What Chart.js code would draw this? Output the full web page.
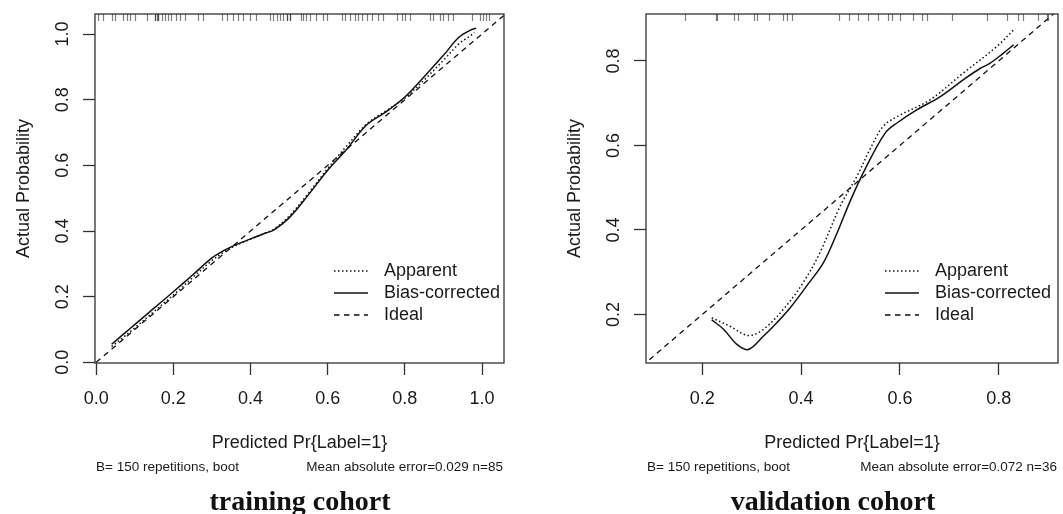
<!DOCTYPE html>
<html>
<head>
<meta charset="utf-8">
<title>Calibration curves</title>
<script src="https://cdn.jsdelivr.net/npm/chart.js@4/dist/chart.umd.min.js"></script>
<style>
    html, body { margin: 0; padding: 0; background: #fff; }
    #wrap { position: relative; width: 1063px; height: 514px; overflow: hidden; }
    canvas { position: absolute; top: 0; }
    #c-train { left: 0; }
    #c-valid { left: 531px; }
    .caption {
        position: absolute; top: 485px; line-height: 28px;
        font: bold 28px "Liberation Serif", "Times New Roman", serif;
        color: #111; white-space: nowrap; transform: translateX(-50%);
    }
</style>
</head>
<body>
<div id="wrap">
    <canvas id="c-train" width="531" height="514"></canvas>
    <canvas id="c-valid" width="532" height="514"></canvas>
    <div class="caption" style="left:300px">training cohort</div>
    <div class="caption" style="left:833px">validation cohort</div>
</div>

<script>
// ─── DATA ────────────────────────────────────────────────────

const LEGEND_LABELS = ['Apparent', 'Bias-corrected', 'Ideal'];
const IDEAL = [0, 1.1];

// training cohort
const trainAppX = [0.04, 0.07, 0.10, 0.15, 0.20, 0.25, 0.30, 0.33, 0.36, 0.40, 0.44, 0.46, 0.50, 0.55, 0.60, 0.65, 0.70, 0.75, 0.80, 0.85, 0.90, 0.94, 0.97, 0.98];
const trainAppY = [0.048, 0.076, 0.105, 0.155, 0.205, 0.258, 0.310, 0.335, 0.355, 0.375, 0.395, 0.405, 0.445, 0.515, 0.590, 0.660, 0.725, 0.765, 0.805, 0.860, 0.920, 0.970, 0.995, 1.005];
const trainBcX  = [0.04, 0.07, 0.10, 0.15, 0.20, 0.25, 0.30, 0.33, 0.36, 0.40, 0.44, 0.46, 0.50, 0.55, 0.60, 0.65, 0.70, 0.75, 0.80, 0.85, 0.90, 0.94, 0.97, 0.985];
const trainBcY  = [0.055, 0.085, 0.115, 0.165, 0.215, 0.266, 0.318, 0.340, 0.357, 0.376, 0.394, 0.403, 0.440, 0.510, 0.585, 0.650, 0.722, 0.762, 0.808, 0.870, 0.935, 0.990, 1.012, 1.018];
const trainRug  = [0.006, 0.018, 0.042, 0.048, 0.070, 0.080, 0.089, 0.100, 0.131, 0.152, 0.152, 0.157, 0.161, 0.161, 0.170,
                   0.178, 0.187, 0.195, 0.207, 0.217, 0.230, 0.265, 0.277, 0.325, 0.340, 0.355, 0.368, 0.381, 0.398, 0.414,
                   0.450, 0.459, 0.468, 0.476, 0.485, 0.494, 0.494, 0.502, 0.502, 0.532, 0.537, 0.545, 0.554, 0.571, 0.589,
                   0.597, 0.636, 0.645, 0.658, 0.671, 0.679, 0.688, 0.701, 0.714, 0.731, 0.744, 0.779, 0.792, 0.800, 0.813,
                   0.865, 0.874, 0.891, 0.900, 0.913, 0.926, 0.973, 0.995, 1.003, 1.010, 1.018];
const trainTicks = [0.0, 0.2, 0.4, 0.6, 0.8, 1.0];

// validation cohort
const validAppX = [0.219, 0.256, 0.293, 0.324, 0.364, 0.404, 0.438, 0.479, 0.513, 0.539, 0.566, 0.594, 0.661, 0.728, 0.796, 0.833];
const validAppY = [0.192, 0.172, 0.150, 0.165, 0.212, 0.275, 0.346, 0.456, 0.527, 0.590, 0.645, 0.668, 0.708, 0.771, 0.834, 0.877];
const validBcX  = [0.219, 0.243, 0.270, 0.293, 0.324, 0.344, 0.378, 0.411, 0.445, 0.470, 0.500, 0.530, 0.570, 0.594, 0.634, 0.681, 0.728, 0.762, 0.782, 0.809, 0.830];
const validBcY  = [0.187, 0.165, 0.129, 0.117, 0.149, 0.172, 0.216, 0.267, 0.322, 0.385, 0.470, 0.545, 0.629, 0.653, 0.684, 0.715, 0.755, 0.782, 0.794, 0.818, 0.838];
const validRug  = [0.165, 0.228, 0.230, 0.264, 0.273, 0.305, 0.310, 0.334, 0.364, 0.371, 0.381, 0.477, 0.496, 0.516, 0.536,
                   0.556, 0.576, 0.583, 0.600, 0.627, 0.644, 0.654, 0.705, 0.776, 0.816, 0.840, 0.850, 0.880, 0.897, 0.900];
const validTicks = [0.2, 0.4, 0.6, 0.8];

// ─── STYLE ───────────────────────────────────────────────────

const FONT = '"Liberation Sans", Arial, sans-serif';
const INK  = '#1a1a1a';
const BOX  = '#333';

const toPoints = (xs, ys) => xs.map((x, i) => ({ x, y: ys[i] }));

// R-style frame, rug, rotated y labels, titles and legend
const calibPlugin = {
    id: 'calib',
    afterDraw(chart, args, opts) {
        const { ctx, chartArea: a, scales: { x, y } } = chart;
        ctx.save();

        // box
        ctx.strokeStyle = BOX;
        ctx.lineWidth = 1.3;
        ctx.strokeRect(a.left, a.top, a.right - a.left, a.bottom - a.top);

        // rug of predicted values along the top
        ctx.strokeStyle = 'rgba(40,40,40,0.6)';
        ctx.lineWidth = 1.2;
        for (const v of opts.rug) {
            const px = Math.round(x.getPixelForValue(v)) + 0.5;
            ctx.beginPath();
            ctx.moveTo(px, a.top);
            ctx.lineTo(px, a.top + 7);
            ctx.stroke();
        }

        ctx.fillStyle = INK;
        ctx.textAlign = 'center';
        ctx.textBaseline = 'middle';

        // y tick labels, rotated like R's las = 0
        ctx.font = `18px ${FONT}`;
        for (const t of y.ticks) {
            ctx.save();
            ctx.translate(a.left - 32, y.getPixelForValue(t.value));
            ctx.rotate(-Math.PI / 2);
            ctx.fillText(t.value.toFixed(1), 0, 0);
            ctx.restore();
        }

        // axis titles
        ctx.save();
        ctx.translate(a.left - 71, (a.top + a.bottom) / 2);
        ctx.rotate(-Math.PI / 2);
        ctx.fillText('Actual Probability', 0, 0);
        ctx.restore();
        ctx.fillText('Predicted Pr{Label=1}', (a.left + a.right) / 2, a.bottom + 80);

        // sub line
        ctx.font = `13.5px ${FONT}`;
        ctx.textAlign = 'left';
        ctx.fillText('B= 150 repetitions, boot', a.left + 1, a.bottom + 104);
        ctx.textAlign = 'right';
        ctx.fillText(opts.sub, a.right - 1, a.bottom + 104);

        // legend
        ctx.font = `18px ${FONT}`;
        ctx.textAlign = 'left';
        chart.data.datasets.forEach((ds, i) => {
            const ly = a.top + 257 + 22 * i;
            ctx.strokeStyle = ds.borderColor;
            ctx.lineWidth = ds.borderWidth;
            ctx.setLineDash(ds.borderDash || []);
            ctx.beginPath();
            ctx.moveTo(a.left + 239, ly);
            ctx.lineTo(a.left + 273, ly);
            ctx.stroke();
            ctx.setLineDash([]);
            ctx.fillText(ds.label, a.left + 289, ly);
        });

        ctx.restore();
    },
};

// ─── CHARTS ──────────────────────────────────────────────────

function buildPanel(canvasId, p) {
    const line = (label, xs, ys, dash, width) => ({
        label,
        data: toPoints(xs, ys),
        borderColor: '#111',
        borderWidth: width,
        borderDash: dash,
        pointRadius: 0,
        tension: 0.35,
        fill: false,
    });

    return new Chart(document.getElementById(canvasId), {
        type: 'line',
        data: {
            datasets: [
                line(LEGEND_LABELS[0], p.appX, p.appY, [1.5, 2.5], 1.5),
                line(LEGEND_LABELS[1], p.bcX, p.bcY, [], 1.5),
                line(LEGEND_LABELS[2], IDEAL, IDEAL, [5.5, 4.5], 1.3),
            ],
        },
        options: {
            responsive: false,
            animation: false,
            layout: { padding: { left: 0, top: 14, right: p.padRight, bottom: 0 } },
            plugins: {
                legend: { display: false },
                tooltip: { enabled: false },
                calib: { rug: p.rug, sub: p.sub },
            },
            scales: {
                x: {
                    type: 'linear',
                    bounds: 'data',
                    min: p.xMin,
                    max: p.xMax,
                    afterBuildTicks: s => { s.ticks = p.ticks.map(v => ({ value: v })); },
                    afterFit: s => { s.height = 151; },
                    ticks: {
                        autoSkip: false,
                        maxRotation: 0,
                        padding: 13,
                        color: INK,
                        font: { family: FONT, size: 18 },
                        callback: v => v.toFixed(1),
                    },
                    grid: { drawOnChartArea: false, drawTicks: true, tickLength: 12, tickColor: BOX, tickWidth: 1.3 },
                    border: { display: false },
                },
                y: {
                    type: 'linear',
                    bounds: 'data',
                    min: p.yMin,
                    max: p.yMax,
                    afterBuildTicks: s => { s.ticks = p.ticks.map(v => ({ value: v })); },
                    afterFit: s => { s.width = p.yAxisW; },
                    ticks: { display: false },
                    grid: { drawOnChartArea: false, drawTicks: true, tickLength: 12, tickColor: BOX, tickWidth: 1.3 },
                    border: { display: false },
                },
            },
        },
        plugins: [calibPlugin],
    });
}

buildPanel('c-train', {
    appX: trainAppX, appY: trainAppY, bcX: trainBcX, bcY: trainBcY,
    rug: trainRug, ticks: trainTicks,
    xMin: -0.003, xMax: 1.057, yMin: -0.002, yMax: 1.061,
    yAxisW: 95, padRight: 27,
    sub: 'Mean absolute error=0.029 n=85',
});

buildPanel('c-valid', {
    appX: validAppX, appY: validAppY, bcX: validBcX, bcY: validBcY,
    rug: validRug, ticks: validTicks,
    xMin: 0.086, xMax: 0.920, yMin: 0.085, yMax: 0.911,
    yAxisW: 115, padRight: 5,
    sub: 'Mean absolute error=0.072 n=36',
});
</script>
</body>
</html>
